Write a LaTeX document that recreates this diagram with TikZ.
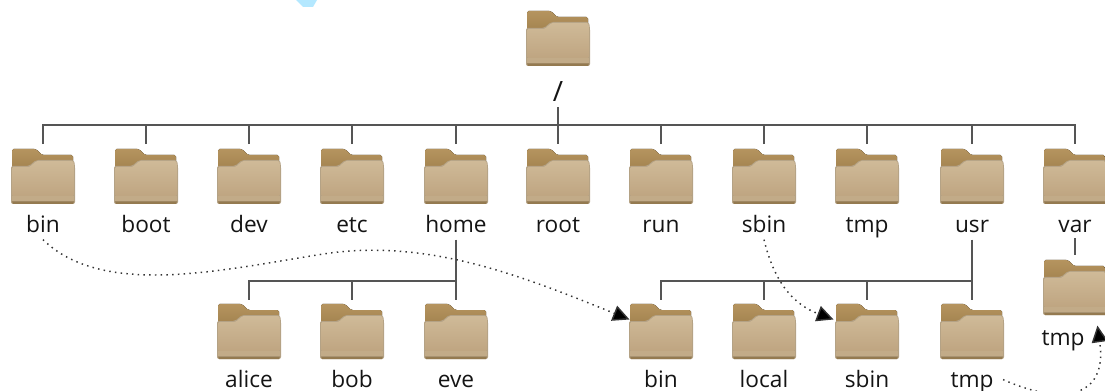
\documentclass[tikz,border=0pt]{standalone}
\usepackage{fontspec}
\setmainfont{Open Sans}
\usetikzlibrary{arrows.meta}
\definecolor{linecol}{HTML}{555555}
\definecolor{backtop}{HTML}{B5945F}
\definecolor{backbot}{HTML}{A3834F}
\definecolor{fronttop}{HTML}{CFBA98}
\definecolor{frontmid}{HTML}{BFA581}
\definecolor{frontbot}{HTML}{C2AB88}
\definecolor{frontedge}{HTML}{947A50}
\definecolor{blob}{HTML}{B4E8FF}
\tikzset{
  x=0.75pt,y=-0.75pt,
  folderbox/.style={minimum width=47.25pt,minimum height=41.25pt,inner sep=0pt,outer sep=0pt},
  namelabel/.style={font=\fontsize{17}{20}\selectfont,text=black!92,inner sep=0pt,anchor=base},
  treeline/.style={draw=linecol,line width=1.1pt},
  linkline/.style={draw=black!80,line width=1.1pt,dash pattern=on 1.1pt off 3.2pt,
    -{Triangle[length=12.5pt,width=12pt,fill=black]}},
  folderpic/.pic={
    \fill[top color=backtop,bottom color=backbot,rounded corners=1.2pt]
      (-31,20) -- (-31,0) -- (-7,0) -- (-1,6) -- (30,6) -- (30,20) -- cycle;
    \fill[frontedge!70,rounded corners=1.5pt] (-32,17) -- (-14,17) -- (-7,11) -- (31,11) -- (32,17) -- (32,55) -- (-32,55) -- cycle;
    \shade[top color=fronttop,bottom color=frontmid,rounded corners=1pt]
      (-31,18) -- (-13.5,18) -- (-6.5,12) -- (30.5,12) -- (31,18) -- (31,47) -- (-31,47) -- cycle;
    \fill[frontbot] (-31,47) -- (31,47) -- (31,52) -- (-31,52) -- cycle;
    \fill[frontedge] (-31,52.5) -- (31,52.5) -- (30,55) -- (-30,55) -- cycle;
  }
}
\begin{document}
\begin{tikzpicture}
\useasboundingbox (0,0) rectangle (1105,391);
\fill[blob] (296,0) -- (317,0) -- (313,7) -- (303,7) -- cycle;

\pic at (558,11) {folderpic};
\node[folderbox] (rootdir) at (558,38.5) {};
\node[namelabel,font=\fontsize{21}{24}\selectfont] (slash) at (558,101.5) {/};

\foreach \n/\t/\cx in {bin/bin/43,boot/boot/146,dev/dev/249,etc/etc/352,home/home/456,root/root/558,run/run/661,sbin/sbin/764,tmp/tmp/867,usr/usr/972,var/var/1075}{
  \pic at (\cx,149) {folderpic};
  \node[folderbox] (\n) at (\cx,176.5) {};
  \node[namelabel] (\n-l) at (\cx,233) {\t};
}
\foreach \n/\t/\cx in {alice/alice/249,bob/bob/352,eve/eve/456,bintwo/bin/661,local/local/764,sbintwo/sbin/867,tmptwo/tmp/972}{
  \pic at (\cx,304) {folderpic};
  \node[folderbox] (\n) at (\cx,331.5) {};
  \node[namelabel] (\n-l) at (\cx,387) {\t};
}
\pic at (1075,260) {folderpic};
\node[folderbox] (vartmp) at (1075,287.5) {};
\node[namelabel] (vartmp-l) at (1063,345) {tmp};

% top tree
\draw[treeline] ([yshift=3.6pt]bin.north) -- ++(0,-19) -| ([yshift=3.6pt]var.north);
\foreach \n in {boot,dev,etc,home,run,sbin,tmp,usr}
  \draw[treeline] ([yshift=3.6pt]\n.north) -- ++(0,-19);
\draw[treeline] ([yshift=-4.5pt]slash.base) -- ([yshift=3.6pt]root.north);

% home subtree
\draw[treeline] ([yshift=-5pt]home-l.base) -- ([yshift=3pt]eve.north);
\draw[treeline] ([yshift=3pt]alice.north) -- ++(0,-19) -| ([yshift=3pt]eve.north);
\draw[treeline] ([yshift=3pt]bob.north) -- ++(0,-19);

% usr subtree
\draw[treeline] ([yshift=-5pt]usr-l.base) -- ([yshift=3pt]tmptwo.north);
\draw[treeline] ([yshift=3pt]bintwo.north) -- ++(0,-19) -| ([yshift=3pt]tmptwo.north);
\draw[treeline] ([yshift=3pt]local.north) -- ++(0,-19);
\draw[treeline] ([yshift=3pt]sbintwo.north) -- ++(0,-19);

% var
\draw[treeline] ([yshift=-4pt]var-l.base) -- ([yshift=3.6pt]vartmp.north);

% links
\draw[linkline] ([yshift=-5pt]bin-l.base) .. controls (105,300) and (230,268) .. (330,253)
  .. controls (430,240) and (520,275) .. ([yshift=9pt]bintwo.west);
\draw[linkline] ([yshift=-5pt]sbin-l.base) .. controls (775,285) and (795,305) .. ([yshift=9pt,xshift=-1.5pt]sbintwo.west);
\draw[linkline] ([xshift=7pt,yshift=2pt]tmptwo-l.east) .. controls (1060,405) and (1108,400) .. ([xshift=9.5pt,yshift=11pt]vartmp-l.east);
\end{tikzpicture}
\end{document}
